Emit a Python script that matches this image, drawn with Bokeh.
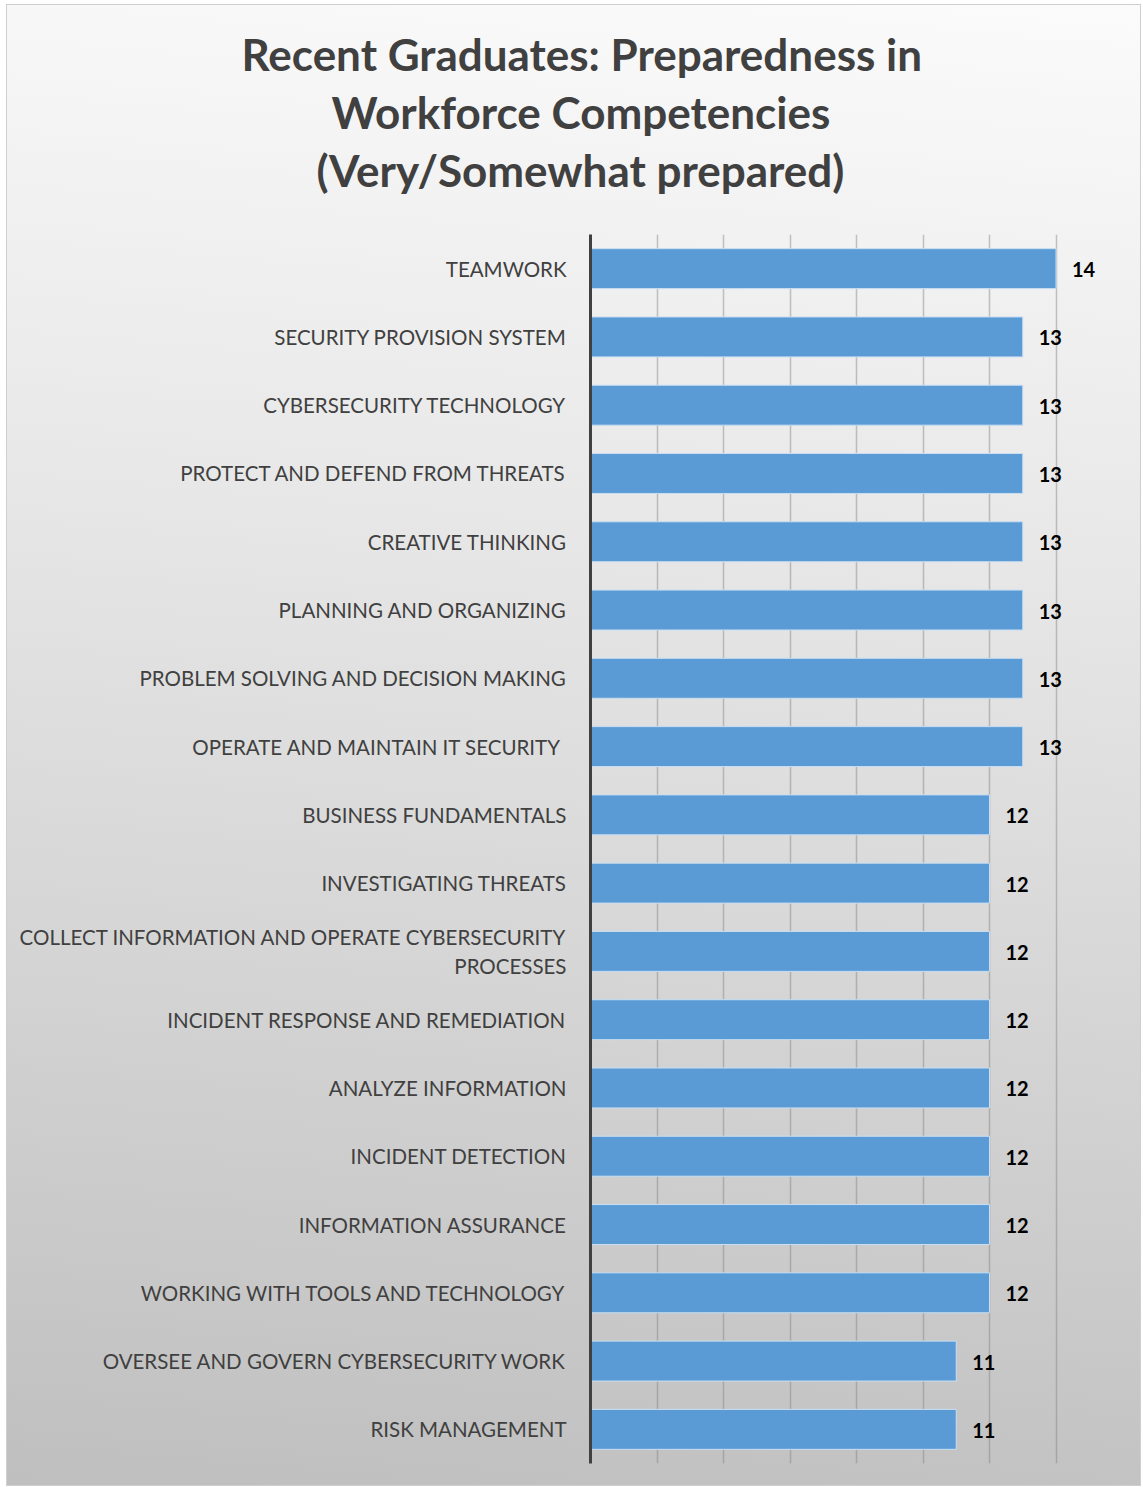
from bokeh.plotting import figure
from bokeh.models import FactorRange, Range1d, FixedTicker, ColumnDataSource, Title
from bokeh.core.properties import value
from bokeh.embed import file_html
from bokeh.resources import INLINE

categories = [
    "TEAMWORK",
    "SECURITY PROVISION SYSTEM",
    "CYBERSECURITY TECHNOLOGY",
    "PROTECT AND DEFEND FROM THREATS",
    "CREATIVE THINKING",
    "PLANNING AND ORGANIZING",
    "PROBLEM SOLVING AND DECISION MAKING",
    "OPERATE AND MAINTAIN IT SECURITY ",
    "BUSINESS FUNDAMENTALS",
    "INVESTIGATING THREATS",
    "COLLECT INFORMATION AND OPERATE CYBERSECURITY\nPROCESSES",
    "INCIDENT RESPONSE AND REMEDIATION",
    "ANALYZE INFORMATION",
    "INCIDENT DETECTION",
    "INFORMATION ASSURANCE",
    "WORKING WITH TOOLS AND TECHNOLOGY",
    "OVERSEE AND GOVERN CYBERSECURITY WORK",
    "RISK MANAGEMENT",
]
values = [14, 13, 13, 13, 13, 13, 13, 13, 12, 12, 12, 12, 12, 12, 12, 12, 11, 11]
x_ticks = [0, 2, 4, 6, 8, 10, 12, 14, 16]
title_lines = ["Recent Graduates: Preparedness in", "Workforce Competencies", "(Very/Somewhat prepared)"]
# horizontal shift of each title line (px, from the plot frame's left edge) so the lines are centred
title_offsets = [-349, -259, -274]

src = ColumnDataSource(dict(cat=categories, val=values, lbl=[str(v) for v in values]))

p = figure(
    width=1133, height=1480,
    y_range=FactorRange(*reversed(categories), range_padding=0),
    x_range=Range1d(0, 16),
    output_backend="svg", toolbar_location=None,
    min_border_left=583, min_border_right=18, min_border_top=229, min_border_bottom=22,
)
p.title = None
# spacer between the plot area and the title block
p.add_layout(Title(text=" ", text_font="Lato", text_font_size="25px", standoff=5), "above")
for line, off in reversed(list(zip(title_lines, title_offsets))):
    p.add_layout(Title(text=line, align="left", offset=off, text_font="Lato", text_font_size="44px",
                       text_font_style="bold", text_color="#404040", standoff=4), "above")

p.styles = {
    "margin-left": "7px",
    "margin-top": "5px",
    "background": "linear-gradient(185deg, #fbfbfb 0%, #e8e8e8 35%, #bfbfbf 100%)",
    "outline": "1px solid #cfcfcf",
}
p.background_fill_alpha = 0
p.border_fill_alpha = 0
p.outline_line_color = None

p.hbar(y="cat", right="val", left=0, height=0.585, source=src,
       fill_color="#5b9bd5", line_color="#c9def2", line_width=1)
p.text(x="val", y="cat", text="lbl", source=src, x_offset=16, y_offset=1,
       text_font=value("Lato"), text_font_style="bold", text_font_size="20px",
       text_color="#000000", text_baseline="middle", text_align="left")

p.xaxis.visible = False
p.xgrid.ticker = FixedTicker(ticks=x_ticks)
p.xgrid.grid_line_color = "#808080"
p.xgrid.grid_line_alpha = 0.45
p.xgrid.grid_line_width = 1.5
p.ygrid.grid_line_color = None

ax = p.yaxis[0]
ax.axis_line_color = "#404040"
ax.axis_line_width = 3
ax.major_tick_line_color = None
ax.minor_tick_line_color = None
ax.major_label_standoff = 18
ax.major_label_text_font = "Lato"
ax.major_label_text_font_size = "20.5px"
ax.major_label_text_color = "#404040"

open("out.html", "w").write(file_html(p, INLINE))
